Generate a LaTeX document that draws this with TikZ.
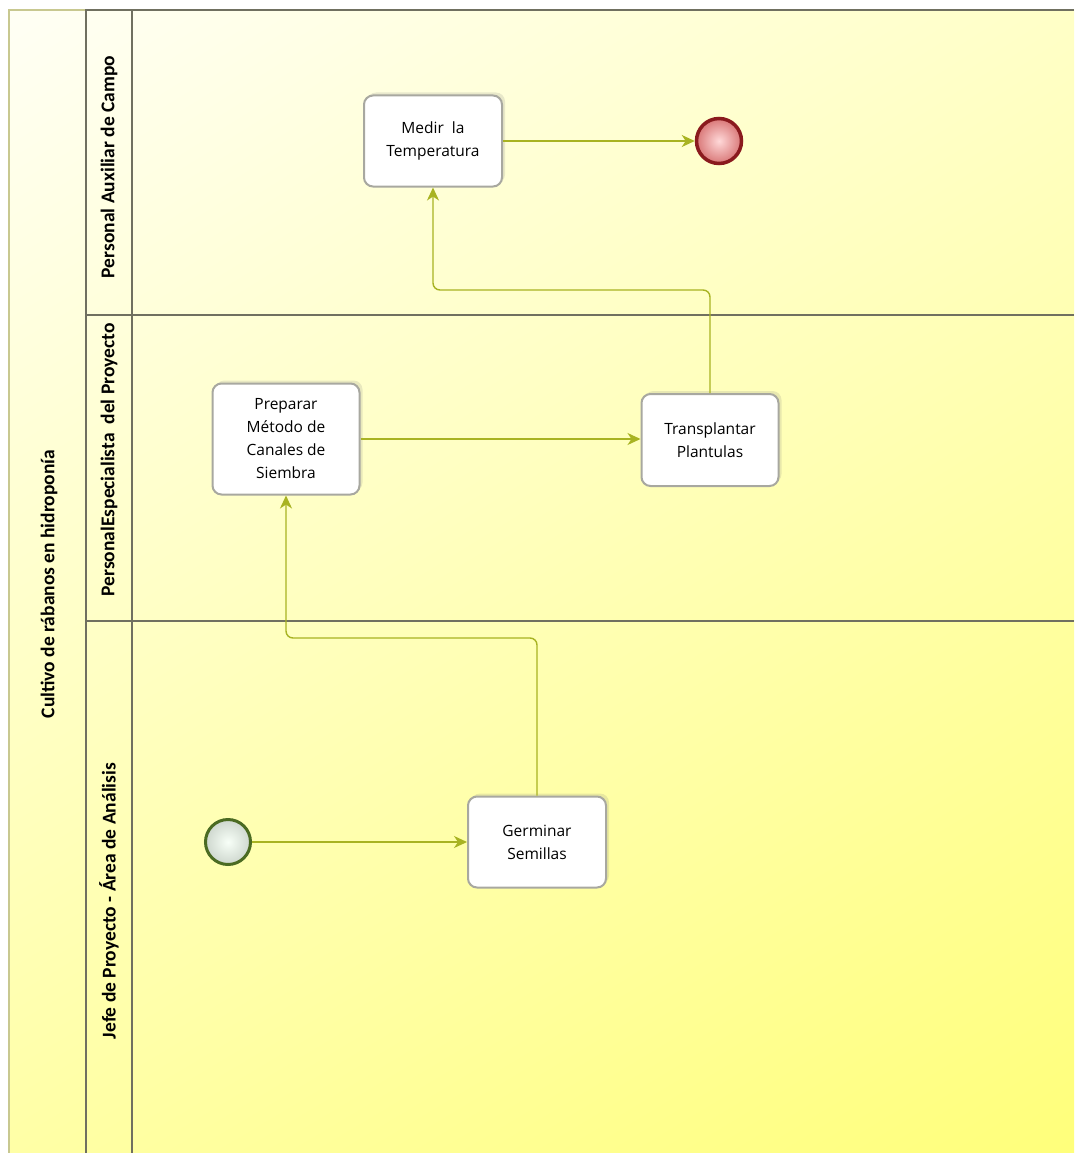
\documentclass[tikz,border=0pt]{standalone}
\usepackage{fontspec}
\setmainfont{Open Sans}
\newfontfamily\lanefont{Carlito}
\usetikzlibrary{arrows.meta,shadows,shadings}

\definecolor{flowgreen}{HTML}{A8B322}
\definecolor{taskgray}{HTML}{A8A8A0}
\definecolor{lanegray}{HTML}{707060}
\definecolor{poolline}{HTML}{C8C890}
\definecolor{startline}{HTML}{4B6B22}
\definecolor{endline}{HTML}{8A1A1E}

\tikzset{
  task/.style={draw=taskgray, line width=2, fill=white, rounded corners=9,
    minimum width=138, minimum height=91, align=center,
    font=\fontsize{15.5}{23}\selectfont,
    drop shadow={shadow xshift=3, shadow yshift=-3, opacity=0.18}},
  startev/.style={circle, draw=startline, line width=3, minimum size=45,
    inner color=white!80!green!15, outer color=green!10!gray!35},
  endev/.style={circle, draw=endline, line width=3.5, minimum size=45,
    inner color=white!85!red, outer color=red!45!white!85!black},
  flow/.style={draw=flowgreen, line width=1.4, rounded corners=7,
    -{Stealth[length=13,width=12,inset=4]}},
  lanelabel/.style={rotate=90, font=\lanefont\fontsize{19.5}{21}\bfseries\selectfont},
}

\begin{document}
\begin{tikzpicture}[x=1pt,y=-1pt]
\useasboundingbox (0,0) rectangle (1074,1153);
% background
\shade[upper left=white!96!yellow, upper right=white!78!yellow,
  lower left=white!65!yellow, lower right=white!48!yellow] (9,10) rectangle (1074,1153);

% pool and lanes
\draw[poolline, line width=1.2] (86,10) -- (9,10) -- (9,1153);
\draw[lanegray, line width=1.2] (86,1153) -- (86,10) -- (1074,10);
\draw[lanegray, line width=1.2] (132,10) -- (132,1153);
\draw[lanegray, line width=1.2] (86,315) -- (1074,315);
\draw[lanegray, line width=1.2] (86,621) -- (1074,621);

\node[lanelabel] (pool) at (49,584) {Cultivo de rábanos en hidroponía};
\node[lanelabel] (auxiliar) at (109,167) {Personal Auxiliar de Campo};
\node[lanelabel] (especialista) at (109,460) {PersonalEspecialista\ \ del Proyecto};
\node[lanelabel] (jefe) at (109,901) {Jefe de Proyecto - Área de Análisis};

% events and tasks
\node[startev] (inicio) at (228,842) {};
\node[task] (germinar) at (537,842) {Germinar\\Semillas};
\node[task, minimum width=147, minimum height=111] (preparar) at (286,439) {Preparar\\Método de\\Canales de\\Siembra};
\node[task, minimum width=137, minimum height=92] (transplantar) at (710,440) {Transplantar\\Plantulas};
\node[task] (medir) at (433,141) {Medir\ \ la\\Temperatura};
\node[endev] (fin) at (719,141) {};

% sequence flows
\draw[flow] (inicio) -- (germinar);
\draw[flow] (germinar.north) -- (537,638) -| (preparar.south);
\draw[flow] (preparar.east) -- (preparar.east -| transplantar.west);
\draw[flow] (transplantar.north) -- (710,290) -| (medir.south);
\draw[flow] (medir) -- (fin);
\end{tikzpicture}
\end{document}
